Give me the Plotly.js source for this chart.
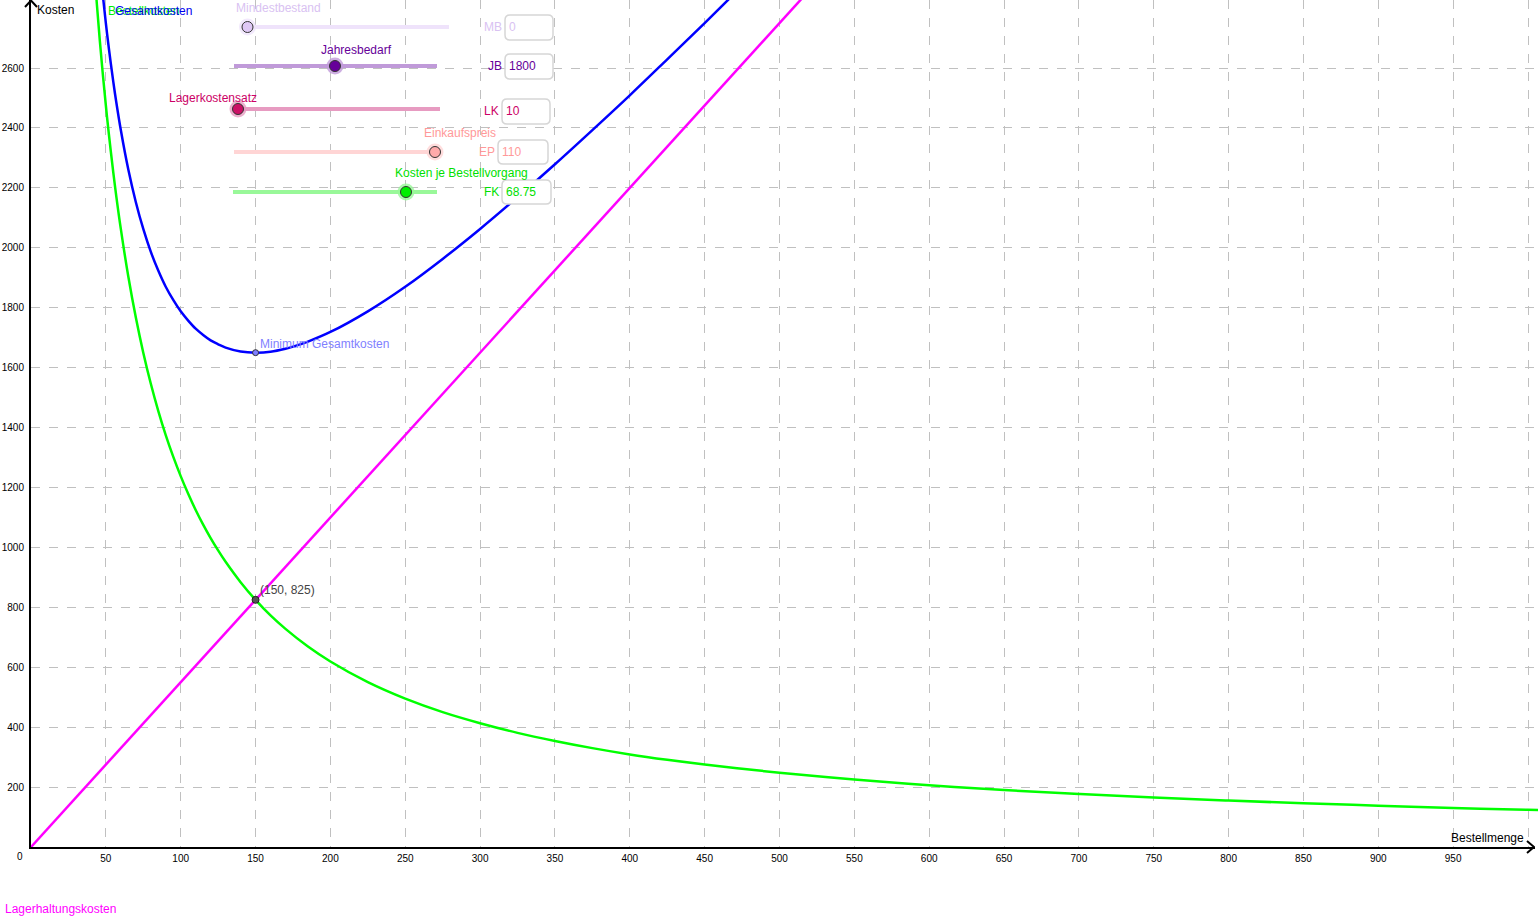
<!DOCTYPE html>
<html>
<head>
<meta charset="utf-8">
<script src="https://cdn.plot.ly/plotly-3.0.1.min.js"></script>
<style>
  html, body { margin: 0; padding: 0; background: #fff; }
  #chart { width: 1538px; height: 918px; }
</style>
</head>
<body>
<div id="chart"></div>
<script>
// Werte
const bkX = [40, 42, 44, 46, 48, 50, 52, 55, 57, 60, 65, 70, 75, 80, 85, 90, 95, 100, 105, 110, 115, 120, 125, 130, 140, 150, 160, 170, 185, 200, 225, 250, 275, 300, 325, 350, 375, 400, 425, 450, 475, 500, 550, 600, 650, 700, 750, 800, 850, 900, 950, 1000, 1010];
const bkY = [3094, 2946, 2813, 2690, 2578, 2475, 2380, 2250, 2171, 2063, 1904, 1768, 1650, 1547, 1456, 1375, 1303, 1238, 1179, 1125, 1076, 1031, 990, 952, 884, 825, 773, 728, 669, 619, 550, 495, 450, 413, 381, 354, 330, 309, 291, 275, 261, 248, 225, 206, 190, 177, 165, 155, 146, 138, 130, 124, 123];

const gkX = [44, 46, 48, 50, 52, 55, 57, 60, 65, 70, 75, 80, 85, 90, 95, 100, 105, 110, 115, 120, 125, 130, 140, 150, 160, 170, 175, 185, 200, 225, 250, 275, 300, 325, 350, 375, 400, 425, 450, 475];
const gkY = [3055, 2943, 2842, 2750, 2666, 2553, 2485, 2393, 2261, 2153, 2063, 1987, 1924, 1870, 1826, 1788, 1757, 1730, 1709, 1691, 1678, 1667, 1654, 1650, 1653, 1663, 1670, 1687, 1719, 1788, 1870, 1963, 2063, 2169, 2279, 2393, 2509, 2629, 2750, 2874];

const lkX = [0, 150, 520];
const lkY = [0, 825, 2860];

const minX = [150], minY = [1650];
const schnittX = [150], schnittY = [825];

const xTicks = [0, 50, 100, 150, 200, 250, 300, 350, 400, 450, 500, 550, 600, 650, 700, 750, 800, 850, 900, 950, 1000];
const yTicks = [0, 200, 400, 600, 800, 1000, 1200, 1400, 1600, 1800, 2000, 2200, 2400, 2600];

// Schieberegler
const sliderNames = ["Mindestbestand", "Jahresbedarf", "Lagerkostensatz", "Einkaufspreis", "Kosten je Bestellvorgang"];
const sliderTags = ["MB", "JB", "LK", "EP", "FK"];
const sliderValues = ["0", "1800", "10", "110", "68.75"];

const W = 1538, H = 918;
const L = 31, B = 71;            // Ursprung bei (31, 847) Pixel
const PW = W - L, PH = H - B;
const px = x => (x - L) / PW;
const py = y => (PH - y) / PH;
const FONT = "Liberation Sans, Arial, sans-serif";

// Geometrie der Regler in Pixeln
const sliderGeo = [
  {t0: 250, t1: 449, y: 27, k: 247.5, lx: 278, ly: 8,  b0: 505, b1: 553, by0: 15, by1: 40, col: "#d9c2f2", knob: "#dfc8f5", track: "#efe3fb"},
  {t0: 234, t1: 437, y: 66, k: 335,   lx: 356, ly: 50, b0: 505, b1: 553, by0: 54, by1: 79, col: "#660099", knob: "#660099", track: "#c09ad9"},
  {t0: 236, t1: 440, y: 109, k: 238,  lx: 213, ly: 98, b0: 502, b1: 550, by0: 99, by1: 124, col: "#cc0066", knob: "#cc1166", track: "#e79bc1"},
  {t0: 234, t1: 435, y: 152, k: 435,  lx: 460, ly: 133, b0: 498, b1: 548, by0: 140, by1: 164, col: "#ff9999", knob: "#ffaaaa", track: "#ffd5d5"},
  {t0: 233, t1: 437, y: 192, k: 406,  lx: 462, ly: 173, b0: 502, b1: 551, by0: 180, by1: 204, col: "#00e000", knob: "#00ee00", track: "#99f899"}
];

const roundRect = (x0, y0, x1, y1, r) => {
  const a = px(x0), b = px(x1), c = py(y0), d = py(y1);
  const rx = r / PW, ry = r / PH;
  return `M${a + rx},${c} L${b - rx},${c} Q${b},${c} ${b},${c - ry} L${b},${d + ry} Q${b},${d} ${b - rx},${d} L${a + rx},${d} Q${a},${d} ${a},${d + ry} L${a},${c - ry} Q${a},${c} ${a + rx},${c} Z`;
};

const shapes = [
  // Achsenpfeile
  {type: "path", xref: "paper", yref: "paper", path: `M${px(1527)},${py(841)} L${px(1534)},${py(847)} L${px(1527)},${py(853)}`, line: {color: "#000", width: 2}},
  {type: "path", xref: "paper", yref: "paper", path: `M${px(25)},${py(7)} L${px(31)},${py(0.5)} L${px(37)},${py(7)}`, line: {color: "#000", width: 2}},
  // Ende der x-Achse hinter dem Pfeil abdecken
  {type: "rect", xref: "paper", yref: "paper", x0: px(1535), x1: px(1540), y0: py(845), y1: py(850), fillcolor: "#fff", line: {width: 0}}
];
const annotations = [
  {xref: "paper", yref: "paper", x: px(35), y: py(10), xanchor: "left", yanchor: "middle", showarrow: false, text: "Kosten", font: {family: FONT, size: 12, color: "#000"}},
  {xref: "paper", yref: "paper", x: px(1526), y: py(838), xanchor: "right", yanchor: "middle", showarrow: false, text: "Bestellmenge", font: {family: FONT, size: 12, color: "#000"}},
  {xref: "paper", yref: "paper", x: px(20), y: py(856), xanchor: "center", yanchor: "middle", showarrow: false, text: "0", font: {family: FONT, size: 10, color: "#000"}},
  {xref: "paper", yref: "paper", x: px(106), y: py(11), xanchor: "left", yanchor: "middle", showarrow: false, text: "Bestellkosten", font: {family: FONT, size: 12, color: "#00ee00"}},
  {xref: "paper", yref: "paper", x: px(113), y: py(11), xanchor: "left", yanchor: "middle", showarrow: false, text: "Gesamtkosten", font: {family: FONT, size: 12, color: "#0000ee"}},
  {xref: "paper", yref: "paper", x: px(3), y: py(909), xanchor: "left", yanchor: "middle", showarrow: false, text: "Lagerhaltungskosten", font: {family: FONT, size: 12, color: "#ff00ff"}},
  {xref: "x", yref: "y", x: minX[0], y: minY[0], xshift: 2, yshift: 9, xanchor: "left", yanchor: "middle", showarrow: false, text: "Minimum Gesamtkosten", font: {family: FONT, size: 12, color: "#7f7fff"}},
  {xref: "x", yref: "y", x: schnittX[0], y: schnittY[0], xshift: 2, yshift: 10, xanchor: "left", yanchor: "middle", showarrow: false, text: "(" + schnittX[0] + ", " + schnittY[0] + ")", font: {family: FONT, size: 12, color: "#444"}}
];

sliderGeo.forEach((g, i) => {
  shapes.push({type: "line", xref: "paper", yref: "paper", x0: px(g.t0), x1: px(g.t1), y0: py(g.y), y1: py(g.y), line: {color: g.track, width: 4}});
  shapes.push({type: "circle", xref: "paper", yref: "paper", x0: px(g.k - 8.5), x1: px(g.k + 8.5), y0: py(g.y - 8.5), y1: py(g.y + 8.5), fillcolor: g.track, opacity: 0.8, line: {width: 0}});
  shapes.push({type: "circle", xref: "paper", yref: "paper", x0: px(g.k - 5.5), x1: px(g.k + 5.5), y0: py(g.y - 5.5), y1: py(g.y + 5.5), fillcolor: g.knob, line: {color: "#333", width: 1}});
  shapes.push({type: "path", xref: "paper", yref: "paper", path: roundRect(g.b0, g.by0, g.b1, g.by1, 5), fillcolor: "#fff", line: {color: "#d6d6d6", width: 1.5}});
  annotations.push({xref: "paper", yref: "paper", x: px(g.lx), y: py(g.ly), xanchor: "center", yanchor: "middle", showarrow: false, text: sliderNames[i], font: {family: FONT, size: 12, color: g.col}});
  annotations.push({xref: "paper", yref: "paper", x: px(g.b0 - 1), y: py((g.by0 + g.by1) / 2), xanchor: "right", yanchor: "middle", showarrow: false, text: sliderTags[i], font: {family: FONT, size: 12, color: g.col}});
  annotations.push({xref: "paper", yref: "paper", x: px(g.b0 + 2), y: py((g.by0 + g.by1) / 2), xanchor: "left", yanchor: "middle", showarrow: false, text: sliderValues[i], font: {family: FONT, size: 12, color: g.col}});
});

const data = [
  {x: lkX, y: lkY, mode: "lines", line: {color: "#ff00ff", width: 2.5}, name: "Lagerhaltungskosten"},
  {x: bkX, y: bkY, mode: "lines", line: {color: "#00ff00", width: 2.5, shape: "spline", smoothing: 1}, name: "Bestellkosten"},
  {x: gkX, y: gkY, mode: "lines", line: {color: "#0000ff", width: 2.5, shape: "spline", smoothing: 1}, name: "Gesamtkosten"},
  {x: minX, y: minY, mode: "markers", marker: {color: "#7f7fff", size: 6, line: {color: "#333", width: 1}}, name: "Minimum"},
  {x: schnittX, y: schnittY, mode: "markers", marker: {color: "#555", size: 7, line: {color: "#222", width: 1}}, name: "Schnittpunkt"}
];

const layout = {
  width: W,
  height: H,
  margin: {l: L, r: 0, t: 0, b: B, pad: 0},
  paper_bgcolor: "#fff",
  plot_bgcolor: "#fff",
  showlegend: false,
  font: {family: FONT, size: 10, color: "#000"},
  xaxis: {
    range: [0, PW / 1.497],
    tickvals: xTicks,
    ticktext: xTicks.map(v => (v === 0 || v === 1000) ? "" : String(v)),
    ticks: "outside", ticklen: 1, tickcolor: "rgba(0,0,0,0)",
    showgrid: true, gridcolor: "#c0c0c0", griddash: "dash", gridwidth: 1,
    zeroline: false, showline: true, linecolor: "#000", linewidth: 2,
    tickfont: {family: FONT, size: 10, color: "#000"}
  },
  yaxis: {
    range: [0, PH / 0.2996],
    tickvals: yTicks,
    ticktext: yTicks.map(v => v === 0 ? "" : String(v)),
    ticks: "outside", ticklen: 3, tickcolor: "rgba(0,0,0,0)",
    showgrid: true, gridcolor: "#c0c0c0", griddash: "dash", gridwidth: 1,
    zeroline: false, showline: true, linecolor: "#000", linewidth: 2,
    tickfont: {family: FONT, size: 10, color: "#000"}
  },
  shapes: shapes,
  annotations: annotations
};

Plotly.newPlot("chart", data, layout, {displayModeBar: false, staticPlot: true});
</script>
</body>
</html>
